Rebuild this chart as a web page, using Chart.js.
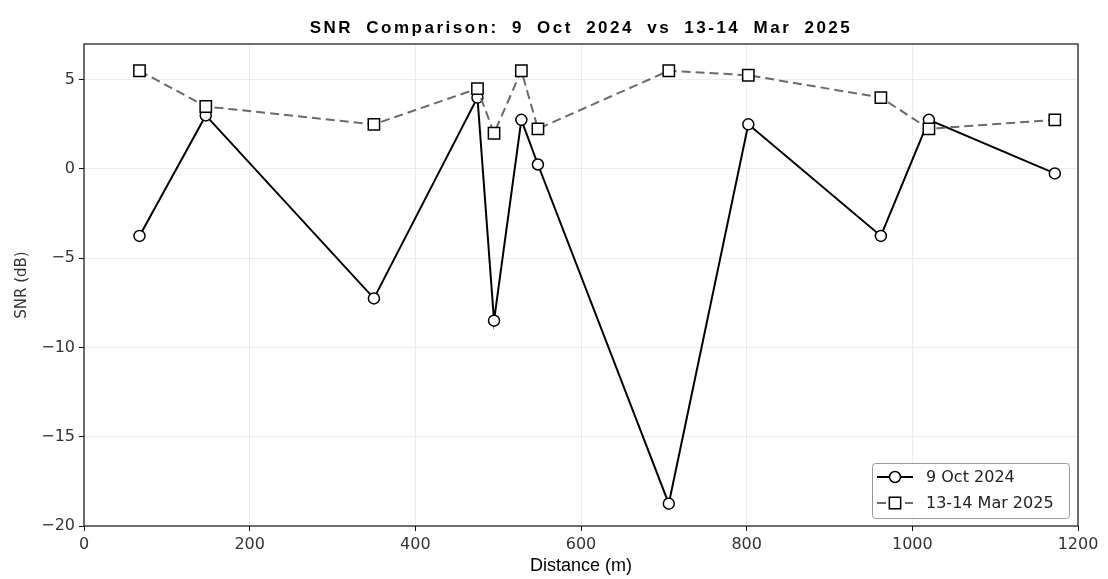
<!DOCTYPE html>
<html>
<head>
<meta charset="utf-8">
<script src="https://cdn.jsdelivr.net/npm/chart.js@4.4.1/dist/chart.umd.min.js"></script>
<style>
  html, body { margin: 0; padding: 0; background: #fff; }
  #wrap { width: 1108px; height: 579px; }
</style>
</head>
<body>
<div id="wrap"><canvas id="snr"></canvas></div>
<script>
// distance along the line (m) and SNR (dB) for the two surveys
const distances = [67, 147, 350, 475, 495, 528, 548, 706, 802, 962, 1020, 1172];
const snrOct2024 = [-3.75, 3, -7.25, 4, -8.5, 2.75, 0.25, -18.75, 2.5, -3.75, 2.75, -0.25];
const snrMar2025 = [5.5, 3.5, 2.5, 4.5, 2, 5.5, 2.25, 5.5, 5.25, 4, 2.25, 2.75];
const seriesLabels = ['9 Oct 2024', '13-14 Mar 2025'];
const xTicks = [0, 200, 400, 600, 800, 1000, 1200];
const yTicks = [-20, -15, -10, -5, 0, 5];
const chartTitle = 'SNR Comparison: 9 Oct 2024 vs 13-14 Mar 2025';

Chart.defaults.font.family = '"DejaVu Sans", sans-serif';
Chart.defaults.color = '#333';

const toPoints = ys => distances.map((d, i) => ({x: d, y: ys[i]}));
const minus = v => (v < 0 ? '\u2212' + Math.abs(v) : String(v));

// title drawn by hand so it can get the wide letter spacing
const titleText = {
  id: 'titleText',
  afterDraw(chart) {
    const {ctx, chartArea} = chart;
    ctx.save();
    ctx.font = 'bold 17px "Liberation Sans", Arial, sans-serif';
    ctx.letterSpacing = '2.5px';
    ctx.wordSpacing = '6px';
    ctx.fillStyle = '#000';
    ctx.textAlign = 'center';
    ctx.textBaseline = 'middle';
    ctx.fillText(chartTitle, (chartArea.left + chartArea.right) / 2, 28);
    ctx.restore();
  }
};

// full box around the plot area
const frame = {
  id: 'frame',
  afterDatasetsDraw(chart) {
    const {ctx, chartArea: a} = chart;
    ctx.save();
    ctx.strokeStyle = '#111';
    ctx.lineWidth = 1.2;
    ctx.strokeRect(a.left, a.top, a.right - a.left, a.bottom - a.top);
    ctx.restore();
  }
};

// legend box in the lower right corner, line + marker handles
const legendBox = {
  id: 'legendBox',
  afterDraw(chart) {
    const {ctx, chartArea} = chart;
    const w = 197, h = 55;
    const x0 = chartArea.right - 9 - w;
    const y0 = chartArea.bottom - 8 - h;
    ctx.save();
    ctx.fillStyle = 'rgba(255,255,255,0.85)';
    ctx.strokeStyle = '#999';
    ctx.lineWidth = 1;
    ctx.beginPath();
    ctx.roundRect(x0 + 0.5, y0 + 0.5, w, h, 3);
    ctx.fill();
    ctx.stroke();
    ctx.font = '16px "DejaVu Sans", sans-serif';
    ctx.textBaseline = 'middle';
    chart.data.datasets.forEach((ds, i) => {
      const cy = y0 + 14 + i * 26;
      const mx = x0 + 23;
      ctx.strokeStyle = ds.borderColor;
      ctx.lineWidth = ds.borderWidth;
      ctx.setLineDash(ds.borderDash || []);
      ctx.beginPath();
      ctx.moveTo(x0 + 5, cy);
      ctx.lineTo(x0 + 41, cy);
      ctx.stroke();
      ctx.setLineDash([]);
      ctx.fillStyle = '#fff';
      ctx.strokeStyle = ds.pointBorderColor;
      ctx.lineWidth = ds.pointBorderWidth;
      ctx.beginPath();
      if (ds.pointStyle === 'rect') {
        const s = ds.pointRadius * Math.SQRT1_2;
        ctx.rect(mx - s, cy - s, 2 * s, 2 * s);
      } else {
        ctx.arc(mx, cy, ds.pointRadius, 0, Math.PI * 2);
      }
      ctx.fill();
      ctx.stroke();
      ctx.fillStyle = '#222';
      ctx.fillText(ds.label, x0 + 54, cy + 1);
    });
    ctx.restore();
  }
};

new Chart(document.getElementById('snr'), {
  type: 'line',
  data: {
    datasets: [
      {
        label: seriesLabels[0],
        data: toPoints(snrOct2024),
        borderColor: '#000',
        borderWidth: 2,
        pointStyle: 'circle',
        pointRadius: 5.5,
        pointBackgroundColor: '#fff',
        pointBorderColor: '#000',
        pointBorderWidth: 1.5,
        tension: 0,
        order: 2
      },
      {
        label: seriesLabels[1],
        data: toPoints(snrMar2025),
        borderColor: '#6a6a6a',
        borderWidth: 2,
        borderDash: [9, 5],
        pointStyle: 'rect',
        pointRadius: 8,
        pointBackgroundColor: '#fff',
        pointBorderColor: '#000',
        pointBorderWidth: 1.5,
        tension: 0,
        order: 1
      }
    ]
  },
  options: {
    responsive: true,
    maintainAspectRatio: false,
    animation: false,
    layout: {padding: {top: 44, right: 30, bottom: 0, left: 0}},
    plugins: {
      legend: {display: false},
      title: {display: false},
      tooltip: {enabled: false}
    },
    scales: {
      x: {
        type: 'linear',
        min: 0,
        max: 1200,
        afterBuildTicks: s => { s.ticks = xTicks.map(v => ({value: v})); },
        afterFit: s => { s.height = 53; },
        border: {display: false},
        grid: {color: 'rgba(0,0,0,0.07)', tickColor: '#111', tickLength: 5, tickWidth: 1},
        ticks: {padding: 4, font: {size: 16}, maxRotation: 0, callback: minus},
        title: {
          display: true,
          text: 'Distance (m)',
          color: '#000',
          font: {family: '"Liberation Sans", Arial, sans-serif', size: 18},
          padding: {top: 0, bottom: 2}
        }
      },
      y: {
        min: -20,
        max: 7,
        afterBuildTicks: s => { s.ticks = yTicks.map(v => ({value: v})); },
        afterFit: s => { s.width = 84; },
        border: {display: false},
        grid: {color: 'rgba(0,0,0,0.07)', tickColor: '#111', tickLength: 5, tickWidth: 1},
        ticks: {padding: 4, font: {size: 16}, callback: minus},
        title: {
          display: true,
          text: 'SNR (dB)',
          font: {size: 15},
          padding: {top: 13, bottom: 0}
        }
      }
    }
  },
  plugins: [frame, titleText, legendBox]
});
</script>
</body>
</html>
